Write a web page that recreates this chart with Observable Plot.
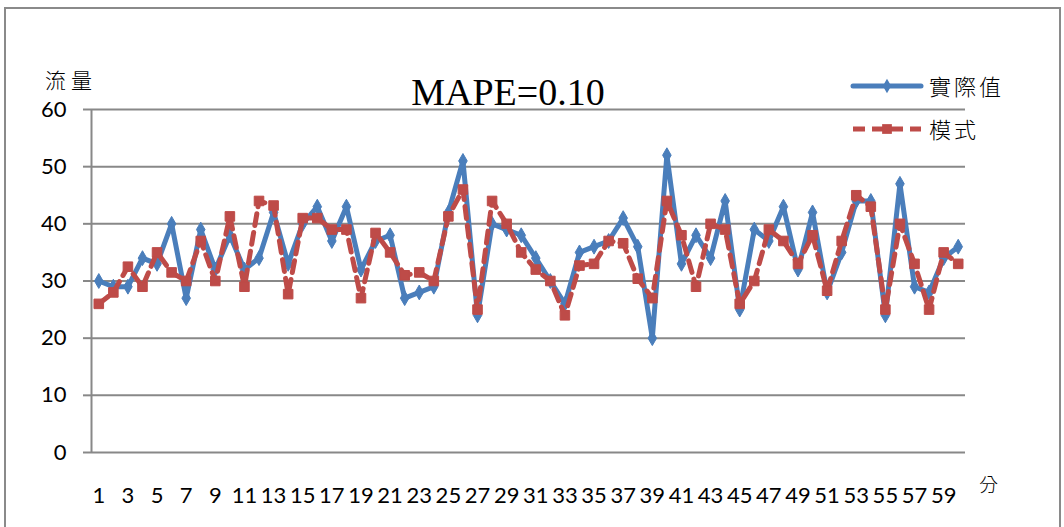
<!DOCTYPE html>
<html>
<head>
<meta charset="utf-8">
<script src="https://cdn.jsdelivr.net/npm/d3@7"></script>
<script src="https://cdn.jsdelivr.net/npm/@observablehq/plot@0.6"></script>
<style>
  html, body { margin: 0; padding: 0; background: #fff; }
  #wrap { position: relative; width: 1064px; height: 527px; overflow: hidden; }
  #wrap > svg { position: absolute; left: 0; top: 0; }
  #frame { position: absolute; left: 4px; top: 7px; width: 1057px; height: 540px;
           border: 2px solid #8a8a8a; box-sizing: border-box; pointer-events: none; }
</style>
</head>
<body>
<div id="wrap"><div id="frame"></div></div>
<script>
// Minute index 1..60
const minutes = d3.range(1, 61);

// 實際值 (observed flow)
const actual = [
  30, 29, 29, 34, 33, 40, 27, 39, 32, 38,
  32, 34, 42, 33, 40, 43, 37, 43, 32, 37,
  38, 27, 28, 29, 42, 51, 24, 40, 39, 38,
  34, 30, 26, 35, 36, 37, 41, 36, 20, 52,
  33, 38, 34, 44, 25, 39, 37, 43, 32, 42,
  28, 35, 44, 44, 24, 47, 29, 28, 34, 36
];

// 模式 (model output)
const model = [
  26, 28, 32.5, 29, 35, 31.5, 30, 37, 30, 41.3,
  29, 44, 43.2, 27.7, 41, 41, 39, 39, 27, 38.4,
  35, 31, 31.5, 30, 41.3, 46, 25, 44, 40, 35,
  32, 30, 24, 32.7, 33, 37, 36.6, 30.4, 27, 44,
  38, 29, 40, 39, 26, 30, 39, 37, 33, 38,
  28.3, 37, 45, 43, 25, 40, 33, 25, 35, 33
];

const yTicks = [0, 10, 20, 30, 40, 50, 60];
const xTicks = minutes.filter(m => m % 2 === 1);

const blue = "#4a7ebb";
const red = "#be4b48";
const grid = "#888888";

const rowsA = minutes.map((m, i) => ({m, v: actual[i]}));
const rowsM = minutes.map((m, i) => ({m, v: model[i]}));

const W = 1064, H = 527;

const chart = Plot.plot({
  width: W,
  height: H,
  marginLeft: 91,
  marginRight: 99,
  marginTop: 109,
  marginBottom: 75,
  style: {fontFamily: "Lato, 'Liberation Sans', sans-serif", fontSize: "22px", color: "#000", background: "transparent"},
  x: {type: "linear", domain: [0.5, 60.5], ticks: xTicks, tickFormat: d => String(d)},
  y: {domain: [0, 60], ticks: yTicks},
  marks: [
    Plot.ruleY(yTicks, {x1: 0.5, x2: 60.5, stroke: grid, strokeWidth: 2}),
    Plot.ruleX([0.5], {y1: 0, y2: 60, stroke: grid, strokeWidth: 2}),
    Plot.axisY({ticks: yTicks, tickSize: 8, tickPadding: 17, stroke: grid, strokeWidth: 2, label: null, fontSize: 22}),
    Plot.axisX({ticks: xTicks, tickSize: 0, tickPadding: 35, label: null, fontSize: 22, tickFormat: d => String(d)}),
    Plot.line(rowsA, {x: "m", y: "v", stroke: blue, strokeWidth: 5, strokeLinejoin: "round", strokeLinecap: "round"}),
    Plot.dot(rowsA, {x: "m", y: "v", symbol: "diamond", r: 4.5, fill: blue, stroke: blue, strokeWidth: 1}),
    Plot.line(rowsM, {x: "m", y: "v", stroke: red, strokeWidth: 5, strokeDasharray: "12,7", strokeLinejoin: "round"}),
    Plot.dot(rowsM, {x: "m", y: "v", symbol: "square", r: 5.4, fill: red, stroke: red, strokeWidth: 1})
  ]
});

const wrap = document.getElementById("wrap");
wrap.insertBefore(chart, document.getElementById("frame"));

// Titles, axis captions and legend
const svg = d3.select(wrap).append("svg").attr("width", W).attr("height", H);
const cjk = "'Noto Sans CJK TC', 'Noto Sans CJK SC', sans-serif";

svg.append("text").attr("x", 508).attr("y", 105).attr("text-anchor", "middle")
  .attr("font-family", "'Liberation Serif', 'DejaVu Serif', serif").attr("font-size", 38)
  .text("MAPE=0.10");

svg.append("text").attr("x", 45).attr("y", 88).attr("font-family", cjk).attr("font-size", 21)
  .attr("font-weight", 300).attr("letter-spacing", 5).text("流量");

svg.append("text").attr("x", 979).attr("y", 492).attr("font-family", cjk).attr("font-size", 19)
  .attr("font-weight", 300).text("分");

const legend = [
  {label: "實際值", color: blue, dash: null, symbol: d3.symbolDiamond, size: 60, y: 86},
  {label: "模式", color: red, dash: "12,7", symbol: d3.symbolSquare, size: 95, y: 129}
];
for (const item of legend) {
  svg.append("line").attr("x1", 853).attr("x2", 921).attr("y1", item.y).attr("y2", item.y)
    .attr("stroke", item.color).attr("stroke-width", 5)
    .attr("stroke-linecap", item.dash ? "butt" : "round")
    .attr("stroke-dasharray", item.dash);
  svg.append("path").attr("d", d3.symbol(item.symbol, item.size)())
    .attr("transform", `translate(887,${item.y})`).attr("fill", item.color);
  svg.append("text").attr("x", 929).attr("y", item.y + 9).attr("font-family", cjk)
    .attr("font-size", 22).attr("font-weight", 300).attr("letter-spacing", 3).text(item.label);
}
</script>
</body>
</html>
